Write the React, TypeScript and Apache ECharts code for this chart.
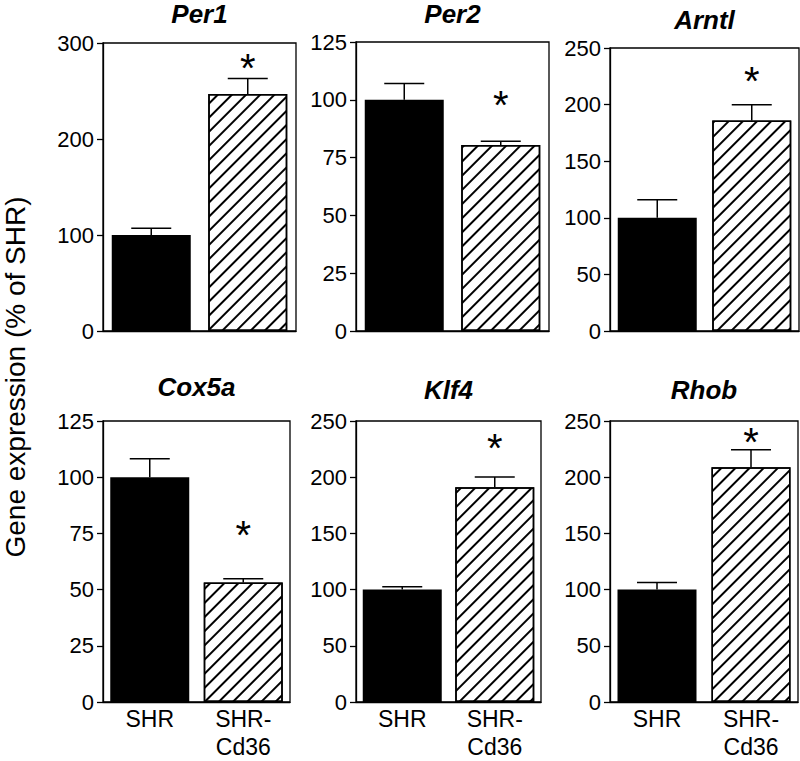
import React, { useEffect, useRef } from "react";
import * as echarts from "echarts";

const genes = ["Per1", "Per2", "Arntl", "Cox5a", "Klf4", "Rhob"];
const categories = ["SHR", "SHR-\nCd36"];
const shrValues = [100, 100, 100, 100, 100, 100];
const shrErrors = [7, 7, 16, 8.2, 2.5, 6.3];
const cd36Values = [247, 80.5, 186, 53.2, 191, 208.8];
const cd36Errors = [16, 1.6, 13.8, 1.6, 9.2, 15.7];
const yMax = [300, 125, 250, 125, 250, 250];
const yInterval = [100, 25, 50, 25, 50, 50];
const asteriskY = [279, 100, 225, 76.5, 230, 236];
const yTitle = "Gene expression (% of SHR)";

// layout (pixels)
const grids = [
  { left: 103, top: 43, width: 193, height: 288 },
  { left: 356, top: 42, width: 193, height: 289 },
  { left: 610, top: 48, width: 189, height: 283 },
  { left: 103, top: 421, width: 187, height: 281 },
  { left: 356, top: 421, width: 185, height: 281 },
  { left: 610, top: 421, width: 188, height: 281 },
];
const titleY = [14, 14, 20, 387, 390, 390];

const FONT = "'Liberation Sans', Arial, sans-serif";

export default function App() {
  const ref = useRef<HTMLDivElement>(null);
  useEffect(() => {
    document.body.style.margin = "0";
    const chart = echarts.init(ref.current!, null, { renderer: "svg" });
    const series: any[] = [];
    genes.forEach((g, i) => {
      series.push({
        type: "bar",
        xAxisIndex: i,
        yAxisIndex: i,
        barWidth: 79,
        z: 2,
        data: [
          { value: shrValues[i], itemStyle: { color: "#000" } },
          {
            value: cd36Values[i],
            itemStyle: {
              color: "#fff",
              borderColor: "#000",
              borderWidth: 1.5,
              decal: {
                symbol: "rect",
                symbolSize: 1,
                color: "#000",
                backgroundColor: "#fff",
                dashArrayX: [1, 0],
                dashArrayY: [2, 7.5],
                rotation: -Math.PI / 4,
              },
            },
          },
        ],
      });
      series.push({
        type: "custom",
        xAxisIndex: i,
        yAxisIndex: i,
        z: 3,
        data: [
          [0, shrValues[i], shrErrors[i]],
          [1, cd36Values[i], cd36Errors[i]],
        ],
        renderItem: (params: any, api: any) => {
          const x = api.value(0);
          const v = api.value(1);
          const e = api.value(2);
          const p0 = api.coord([x, v]);
          const p1 = api.coord([x, v + e]);
          const st = { stroke: "#000", lineWidth: 1.5 };
          return {
            type: "group",
            children: [
              { type: "line", shape: { x1: p0[0], y1: p0[1], x2: p1[0], y2: p1[1] }, style: st },
              { type: "line", shape: { x1: p1[0] - 20, y1: p1[1], x2: p1[0] + 20, y2: p1[1] }, style: st },
            ],
          };
        },
      });
      series.push({
        type: "custom",
        xAxisIndex: i,
        yAxisIndex: i,
        z: 4,
        data: [[1, asteriskY[i]]],
        renderItem: (params: any, api: any) => {
          const p = api.coord([api.value(0), api.value(1)]);
          return {
            type: "text",
            x: p[0],
            y: p[1] + 5,
            style: {
              text: "*",
              fontSize: 40,
              fontFamily: FONT,
              fill: "#000",
              textAlign: "center",
              textVerticalAlign: "middle",
            },
          };
        },
      });
    });

    const graphics: any[] = genes.map((g, i) => ({
      type: "text",
      x: grids[i].left + grids[i].width / 2,
      y: titleY[i],
      style: {
        text: g,
        fontSize: 26,
        fontWeight: "bold",
        fontStyle: "italic",
        fontFamily: FONT,
        fill: "#000",
        textAlign: "center",
        textVerticalAlign: "middle",
      },
    }));
    graphics.push({
      type: "text",
      x: 15,
      y: 377,
      rotation: Math.PI / 2,
      style: {
        text: yTitle,
        fontSize: 28,
        fontFamily: FONT,
        fill: "#000",
        textAlign: "center",
        textVerticalAlign: "middle",
      },
    });

    chart.setOption({
      animation: false,
      backgroundColor: "#fff",
      grid: grids.map((g) => ({
        ...g,
        show: true,
        borderColor: "#000",
        borderWidth: 1.3,
        backgroundColor: "transparent",
        containLabel: false,
      })),
      xAxis: genes.map((g, i) => ({
        type: "category",
        gridIndex: i,
        data: categories,
        axisTick: { show: false },
        axisLine: { show: true, lineStyle: { color: "#000", width: 1.3 } },
        axisLabel: {
          show: i >= 3,
          interval: 0,
          fontSize: 23,
          lineHeight: 28,
          fontFamily: FONT,
          color: "#000",
          margin: 3,
        },
      })),
      yAxis: genes.map((g, i) => ({
        type: "value",
        gridIndex: i,
        min: 0,
        max: yMax[i],
        interval: yInterval[i],
        splitLine: { show: false },
        axisLine: { show: true, lineStyle: { color: "#000", width: 1.3 } },
        axisTick: { show: true, length: 6, lineStyle: { color: "#000", width: 1.3 } },
        axisLabel: { fontSize: 22, fontFamily: FONT, color: "#000", margin: 9 },
      })),
      graphic: graphics,
      series,
    });
    return () => chart.dispose();
  }, []);
  return <div ref={ref} style={{ width: 800, height: 761 }} />;
}
